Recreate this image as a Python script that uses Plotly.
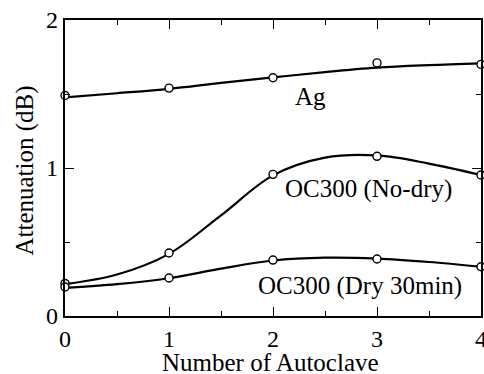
import plotly.graph_objects as go

# Measured attenuation after each autoclave cycle
cycles = [0, 1, 2, 3, 4]
ag = [1.49, 1.54, 1.61, 1.71, 1.70]
oc300_nodry = [0.22, 0.426, 0.957, 1.079, 0.953]
oc300_dry = [0.196, 0.257, 0.378, 0.385, 0.333]

# Smoothed trend curves sampled along the cycle axis
curve_x = [0, 0.5, 1, 1.5, 2, 2.5, 3, 3.5, 4]
ag_curve = [1.477, 1.505, 1.535, 1.575, 1.612, 1.648, 1.678, 1.695, 1.707]
nodry_curve = [0.215, 0.28, 0.42, 0.68, 0.95, 1.07, 1.085, 1.03, 0.953]
dry_curve = [0.19, 0.215, 0.255, 0.32, 0.375, 0.394, 0.388, 0.365, 0.333]

series_labels = ["Ag", "OC300 (No-dry)", "OC300 (Dry 30min)"]
label_pos = [(2.36, 1.48), (2.92, 0.855), (2.84, 0.20)]

x_title = "Number of Autoclave"
y_title = "Attenuation (dB)"

FONT = "Liberation Serif"

fig = go.Figure()
for cy in (ag_curve, nodry_curve, dry_curve):
    fig.add_trace(go.Scatter(x=curve_x, y=cy, mode="lines",
                             line=dict(color="black", width=2.2, shape="spline", smoothing=1.0),
                             hoverinfo="skip", cliponaxis=False))
for ys in (ag, oc300_nodry, oc300_dry):
    fig.add_trace(go.Scatter(x=cycles, y=ys, mode="markers",
                             marker=dict(symbol="circle", size=8, color="white",
                                         line=dict(color="black", width=1.4)),
                             cliponaxis=False))

for text, (lx, ly) in zip(series_labels, label_pos):
    fig.add_annotation(x=lx, y=ly, text=text, showarrow=False,
                       font=dict(family=FONT, size=25, color="black"))

# Axis titles placed in paper coordinates
fig.add_annotation(xref="paper", yref="paper", x=0.494, y=-0.158, text=x_title,
                   showarrow=False, xanchor="center", yanchor="middle",
                   font=dict(family=FONT, size=25, color="black"))
fig.add_annotation(xref="paper", yref="paper", x=-0.095, y=0.493, text=y_title,
                   showarrow=False, textangle=-90, xanchor="center", yanchor="middle",
                   font=dict(family=FONT, size=25, color="black"))

axis_common = dict(showline=True, linecolor="black", linewidth=2.2, mirror="ticks",
                   ticks="inside", ticklen=9, tickwidth=1.4, tickcolor="black",
                   showgrid=False, zeroline=False, ticklabeloverflow="allow",
                   automargin=False,
                   tickfont=dict(family=FONT, size=24, color="black"),
                   minor=dict(ticks="inside", ticklen=5, tickwidth=1.4, tickcolor="black",
                              dtick=0.5, showgrid=False))

fig.update_xaxes(range=[0, 4], dtick=1, tick0=0, **axis_common)
fig.update_yaxes(range=[0, 2], dtick=1, tick0=0, **axis_common)

fig.update_layout(width=484, height=374, showlegend=False,
                  font=dict(family=FONT, color="black"),
                  margin=dict(l=65, r=3, t=20, b=58),
                  plot_bgcolor="white", paper_bgcolor="white")

fig.write_html("out.html")
